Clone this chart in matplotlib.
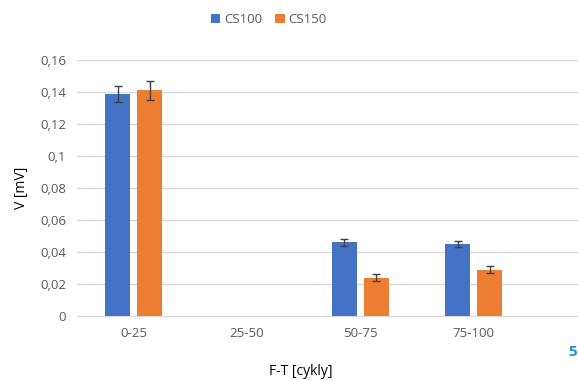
import matplotlib.pyplot as plt
import numpy as np
from matplotlib.ticker import FuncFormatter

# data
kategorie = ['0-25', '25-50', '50-75', '75-100']
cs100 = [0.139, np.nan, 0.046, 0.045]
cs150 = [0.141, np.nan, 0.024, 0.029]
cs100_err = [0.005, 0, 0.002, 0.002]
cs150_err = [0.006, 0, 0.002, 0.002]

plt.rcParams['font.family'] = ['Open Sans', 'DejaVu Sans']

fig = plt.figure(figsize=(5.78, 3.80), dpi=100)
ax = fig.add_axes([77 / 578, 1 - 316 / 380, 1 - 77 / 578, (316 - 60) / 380])

x = np.arange(len(kategorie))
sirka = 0.22
posun = 0.141
chyba = dict(ecolor='#404040', elinewidth=1, capsize=3, capthick=1)
ax.bar(x - posun, cs100, sirka, yerr=cs100_err, color='#4472C4', label='CS100', error_kw=chyba, zorder=3)
ax.bar(x + posun, cs150, sirka, yerr=cs150_err, color='#ED7D31', label='CS150', error_kw=chyba, zorder=3)

ax.set_xlim(-0.5, 3.92)
ax.set_ylim(0, 0.16)
ax.set_yticks(np.arange(0, 0.161, 0.02))
ax.yaxis.set_major_formatter(FuncFormatter(lambda v, p: '0' if v == 0 else ('%g' % round(v, 2)).replace('.', ',')))
ax.set_xticks(x)
ax.set_xticklabels(kategorie)
ax.grid(axis='y', color='#d9d9d9', linewidth=1, zorder=0)
for s in ['top', 'right', 'left']:
    ax.spines[s].set_visible(False)
ax.spines['bottom'].set_color('#d9d9d9')
ax.tick_params(length=0, labelsize=9.5, colors='#595959', pad=8)

ax.set_ylabel('V [mV]', fontsize=10, color='#000000', labelpad=8)
fig.text(0.52, 0.022, 'F-T [cykly]', ha='center', va='center', fontsize=10)
fig.legend(loc='upper center', bbox_to_anchor=(0.465, 0.997), ncol=2, frameon=False,
           fontsize=9.5, handlelength=0.7, handleheight=0.7, columnspacing=1.0,
           handletextpad=0.3, labelcolor='#595959')
fig.text(0.99, 0.073, '5', ha='center', va='center', fontsize=11, fontweight='bold', color='#1f8fd0')

plt.savefig('out.png', dpi=100)
